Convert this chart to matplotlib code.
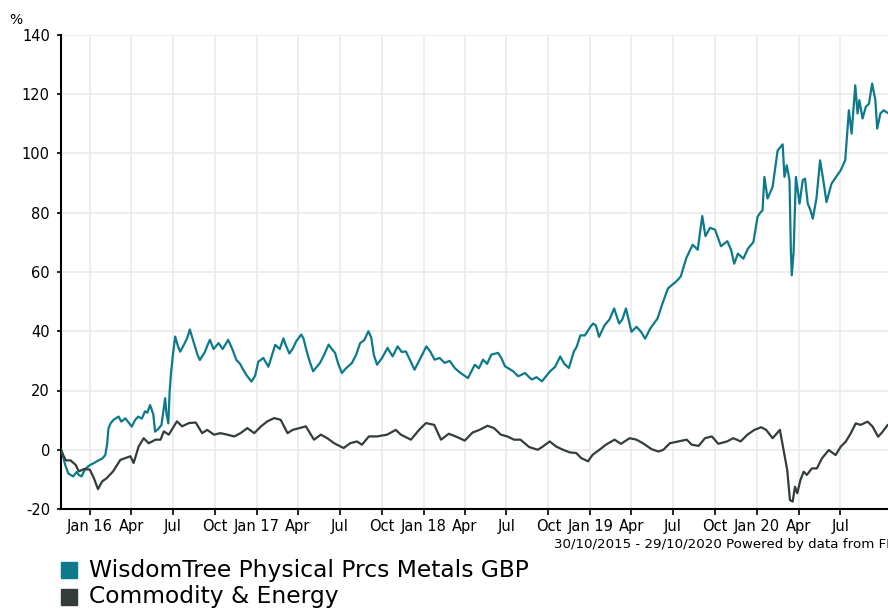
import matplotlib
matplotlib.use('Agg')
import matplotlib.pyplot as plt
import matplotlib.patches as mpatches
import pandas as pd

# Series names and colours
name_metals = 'WisdomTree Physical Prcs Metals GBP'
name_energy = 'Commodity & Energy'
col_metals = '#0d7a8c'
col_energy = '#333d3a'

# WisdomTree Physical Precious Metals GBP, cumulative %
metals_dates = [
    '2015-10-30', '2015-11-03', '2015-11-08', '2015-11-15', '2015-11-20', '2015-11-26',
    '2015-12-03', '2015-12-08', '2015-12-14', '2015-12-22', '2016-01-01', '2016-01-10',
    '2016-01-21', '2016-01-28', '2016-02-04', '2016-02-08', '2016-02-11', '2016-02-16',
    '2016-02-22', '2016-03-04', '2016-03-10', '2016-03-19', '2016-03-27', '2016-04-02',
    '2016-04-09', '2016-04-16', '2016-04-24', '2016-05-01', '2016-05-06', '2016-05-12',
    '2016-05-19', '2016-05-23', '2016-05-30', '2016-06-06', '2016-06-14', '2016-06-17',
    '2016-06-21', '2016-06-24', '2016-06-27', '2016-07-01', '2016-07-06', '2016-07-12',
    '2016-07-17', '2016-07-27', '2016-08-02', '2016-08-07', '2016-08-12', '2016-08-18',
    '2016-08-24', '2016-08-29', '2016-09-09', '2016-09-14', '2016-09-20', '2016-09-28',
    '2016-10-09', '2016-10-18', '2016-10-30', '2016-11-08', '2016-11-17', '2016-11-25',
    '2016-12-02', '2016-12-10', '2016-12-20', '2016-12-28', '2017-01-04', '2017-01-15',
    '2017-01-26', '2017-02-03', '2017-02-10', '2017-02-20', '2017-02-28', '2017-03-06',
    '2017-03-13', '2017-03-20', '2017-03-28', '2017-04-08', '2017-04-13', '2017-04-19',
    '2017-04-26', '2017-05-04', '2017-05-12', '2017-05-19', '2017-05-28', '2017-06-07',
    '2017-06-14', '2017-06-21', '2017-06-28', '2017-07-06', '2017-07-15', '2017-07-28',
    '2017-08-06', '2017-08-15', '2017-08-24', '2017-09-02', '2017-09-08', '2017-09-14',
    '2017-09-21', '2017-10-02', '2017-10-14', '2017-10-25', '2017-11-05', '2017-11-14',
    '2017-11-23', '2017-12-03', '2017-12-12', '2017-12-22', '2018-01-07', '2018-01-16',
    '2018-01-25', '2018-02-05', '2018-02-16', '2018-02-27', '2018-03-10', '2018-03-22',
    '2018-04-08', '2018-04-23', '2018-05-02', '2018-05-11', '2018-05-20', '2018-05-29',
    '2018-06-13', '2018-06-20', '2018-06-28', '2018-07-16', '2018-07-27', '2018-08-11',
    '2018-08-20', '2018-08-26', '2018-09-05', '2018-09-17', '2018-10-05', '2018-10-16',
    '2018-10-27', '2018-11-05', '2018-11-15', '2018-11-26', '2018-12-02', '2018-12-10',
    '2018-12-20', '2019-01-02', '2019-01-07', '2019-01-13', '2019-01-20', '2019-02-01',
    '2019-02-12', '2019-02-22', '2019-03-05', '2019-03-12', '2019-03-20', '2019-04-01',
    '2019-04-12', '2019-04-22', '2019-05-01', '2019-05-12', '2019-05-28', '2019-06-08',
    '2019-06-20', '2019-07-08', '2019-07-18', '2019-07-30', '2019-08-13', '2019-08-24',
    '2019-09-03', '2019-09-10', '2019-09-20', '2019-10-01', '2019-10-14', '2019-10-28',
    '2019-11-05', '2019-11-12', '2019-11-20', '2019-12-02', '2019-12-12', '2019-12-24',
    '2020-01-02', '2020-01-08', '2020-01-13', '2020-01-17', '2020-01-24', '2020-02-04',
    '2020-02-15', '2020-02-26', '2020-03-01', '2020-03-06', '2020-03-12', '2020-03-15',
    '2020-03-17', '2020-03-21', '2020-03-26', '2020-04-03', '2020-04-10', '2020-04-15',
    '2020-04-21', '2020-04-27', '2020-05-02', '2020-05-10', '2020-05-18', '2020-05-25',
    '2020-06-01', '2020-06-12', '2020-06-22', '2020-07-02', '2020-07-12', '2020-07-20',
    '2020-07-26', '2020-08-03', '2020-08-08', '2020-08-12', '2020-08-19', '2020-08-26',
    '2020-09-02', '2020-09-09', '2020-09-16', '2020-09-20', '2020-09-27', '2020-10-04',
    '2020-10-10', '2020-10-20', '2020-10-29',
]
metals_vals = [
    0, -2, -5, -8, -8.5, -9,
    -7.5, -8.5, -9, -6.5, -5.2, -4.5,
    -3.5, -3, -1.8, 2, 7.3, 9,
    10.1, 11.2, 9.5, 10.6, 9, 7.8,
    10, 11.2, 10.5, 13, 12.5, 15.1,
    12, 6.1, 7, 8.4, 17.4, 12,
    8.9, 20, 26, 32, 38.2, 35,
    33.1, 36, 38, 40.6, 38, 35,
    32, 30.3, 33, 35, 37.1, 34,
    36, 34, 37.1, 34, 30.3, 29,
    27, 25, 23, 25, 29.7, 31,
    28, 32, 35.4, 34, 37.6, 35,
    32.5, 34, 36.6, 38.9, 37.5, 33.8,
    30, 26.5, 28, 29.3, 32, 35.5,
    34, 32.7, 29, 25.9, 27.5, 29.3,
    32, 36, 37, 40, 38, 32,
    28.7, 31, 34.4, 31.5, 34.9, 33,
    33.2, 30, 27, 30, 34.9, 33,
    30.4, 31, 29.3, 30, 27.6, 26,
    24.2, 28.7, 27.5, 30.4, 29, 32.1,
    32.7, 31, 28.2, 26.5, 24.8, 25.9,
    24.5, 23.7, 24.5, 23.1, 26.5, 28,
    31.5, 29, 27.6, 33.2, 34.7, 38.6,
    38.6, 41.7, 42.6, 42, 38.1, 42,
    44, 47.7, 42.6, 44, 47.7, 39.8,
    41.5, 39.8, 37.5, 40.9, 44.3, 49.4,
    54.5, 56.8, 58.5, 64.7, 69.2, 67.5,
    78.9, 72.1, 74.9, 74.3, 68.7, 70.4,
    67.5, 62.8, 66.2, 64.5, 67.9, 70.1,
    78.6, 80, 80.8, 92.1, 84.8, 88.7,
    101, 103.1, 92.1, 96, 91, 67.3,
    58.9, 66.7, 92.1, 83.1, 91, 91.5,
    83.1, 80.8, 78, 84.8, 97.7, 91,
    83.6, 89.8, 92.1, 94.3, 97.7, 114.6,
    106.7, 123, 113.5, 118, 111.8, 115.7,
    116.8, 123.6, 118, 108.4, 113.5, 114.6,
    114, 113, 112.5,
]

# Commodity & Energy sector average, cumulative %
energy_dates = [
    '2015-10-30', '2015-11-05', '2015-11-10', '2015-11-20', '2015-12-01', '2015-12-08',
    '2015-12-20', '2016-01-01', '2016-01-10', '2016-01-19', '2016-01-28', '2016-02-07',
    '2016-02-21', '2016-03-08', '2016-03-19', '2016-03-30', '2016-04-06', '2016-04-17',
    '2016-04-28', '2016-05-09', '2016-05-24', '2016-06-04', '2016-06-11', '2016-06-22',
    '2016-07-03', '2016-07-10', '2016-07-21', '2016-08-05', '2016-08-20', '2016-09-03',
    '2016-09-14', '2016-09-29', '2016-10-13', '2016-10-28', '2016-11-12', '2016-11-26',
    '2016-12-11', '2016-12-26', '2017-01-10', '2017-01-24', '2017-02-08', '2017-02-22',
    '2017-03-09', '2017-03-20', '2017-04-04', '2017-04-18', '2017-05-06', '2017-05-21',
    '2017-06-04', '2017-06-19', '2017-07-03', '2017-07-10', '2017-07-24', '2017-08-08',
    '2017-08-19', '2017-09-03', '2017-09-21', '2017-10-13', '2017-11-01', '2017-11-12',
    '2017-12-04', '2017-12-22', '2018-01-06', '2018-01-24', '2018-02-08', '2018-02-25',
    '2018-03-12', '2018-04-01', '2018-04-18', '2018-05-03', '2018-05-21', '2018-06-04',
    '2018-06-19', '2018-07-03', '2018-07-18', '2018-08-01', '2018-08-20', '2018-09-08',
    '2018-09-19', '2018-10-04', '2018-10-18', '2018-11-02', '2018-11-17', '2018-12-01',
    '2018-12-12', '2018-12-27', '2019-01-06', '2019-01-21', '2019-02-04', '2019-02-23',
    '2019-03-09', '2019-03-28', '2019-04-12', '2019-04-26', '2019-05-15', '2019-05-30',
    '2019-06-10', '2019-06-24', '2019-07-12', '2019-07-31', '2019-08-11', '2019-08-26',
    '2019-09-09', '2019-09-24', '2019-10-08', '2019-10-27', '2019-11-10', '2019-11-26',
    '2019-12-11', '2019-12-26', '2020-01-10', '2020-01-21', '2020-02-04', '2020-02-20',
    '2020-02-28', '2020-03-07', '2020-03-13', '2020-03-19', '2020-03-24', '2020-03-29',
    '2020-04-05', '2020-04-12', '2020-04-19', '2020-04-30', '2020-05-11', '2020-05-22',
    '2020-06-06', '2020-06-21', '2020-07-02', '2020-07-13', '2020-07-24', '2020-08-04',
    '2020-08-15', '2020-08-30', '2020-09-10', '2020-09-22', '2020-10-02', '2020-10-13',
    '2020-10-29',
]
energy_vals = [
    0, -2.2, -3.6, -3.6, -5.1, -7.3,
    -6.5, -6.7, -9.6, -13.3, -10.7, -9.6,
    -7.3, -3.4, -2.8, -2.2, -4.5, 1.1,
    3.9, 2.2, 3.4, 3.4, 6.2, 5.1,
    7.9, 9.6, 7.9, 9, 9.2, 5.6,
    6.7, 5.1, 5.6, 5.1, 4.5, 5.6,
    7.3, 5.6, 7.9, 9.6, 10.7, 10.1,
    5.6, 6.7, 7.3, 7.9, 3.4, 5.1,
    3.9, 2.2, 1.1, 0.6, 2.2, 2.8,
    1.7, 4.5, 4.5, 5.1, 6.7, 5.1,
    3.4, 6.7, 9, 8.4, 3.4, 5.4,
    4.5, 3.1, 5.8, 6.7, 8.1, 7.3,
    5.1, 4.5, 3.4, 3.4, 0.9, 0,
    1.1, 2.8, 1.1, 0, -0.9, -1.1,
    -2.8, -3.9, -1.7, 0, 1.7, 3.4,
    2, 3.9, 3.4, 2.2, 0.2, -0.6,
    0, 2.2, 2.8, 3.4, 1.7, 1.3,
    3.9, 4.5, 2, 2.8, 3.9, 2.8,
    5.1, 6.7, 7.6, 6.7, 3.9, 6.7,
    0, -6.8, -17, -17.5, -12.5, -14.7,
    -10.2, -7.4, -8.5, -6.3, -6.3, -2.9,
    -0.1, -1.8, 1, 2.7, 5.5, 8.9,
    8.4, 9.5, 7.8, 4.4, 6.1, 8.4,
    8.6,
]

# Axis ticks
y_ticks = [-20, 0, 20, 40, 60, 80, 100, 120, 140]
x_ticks = pd.date_range('2016-01-01', '2020-07-01', freq='QS')
x_labels = [d.strftime('%b %y') if d.month == 1 else d.strftime('%b') for d in x_ticks]

plt.rcParams['font.family'] = ['DejaVu Sans']

fig = plt.figure(figsize=(8.88, 6.08), dpi=100)
# axes runs a bit past the right edge of the image, as in the original
ax = fig.add_axes([61 / 888, 99 / 608, 834 / 888, 474 / 608])

ax.plot(pd.to_datetime(metals_dates), metals_vals, color=col_metals, lw=1.6, zorder=3)
ax.plot(pd.to_datetime(energy_dates), energy_vals, color=col_energy, lw=1.6, zorder=3)

ax.set_xlim(pd.Timestamp('2015-10-30'), pd.Timestamp('2020-10-29'))
ax.set_ylim(-20, 140)
ax.set_yticks(y_ticks)
ax.set_yticklabels([str(v) for v in y_ticks])
ax.set_xticks(x_ticks)
ax.set_xticklabels(x_labels)

# Grid and spines
ax.grid(True, color='#ebebeb', lw=1.2, zorder=0)
ax.set_axisbelow(True)
for side in ['top', 'right']:
    ax.spines[side].set_visible(False)
for side in ['left', 'bottom']:
    ax.spines[side].set_color('black')
    ax.spines[side].set_linewidth(1.5)
ax.tick_params(axis='y', direction='out', length=3, width=1.2, pad=5, labelsize=10.5)
ax.tick_params(axis='x', direction='out', length=4, width=1.2, pad=3, labelsize=10.5)

# Unit label and footnote
fig.text(9 / 888, 1 - 20 / 608, '%', fontsize=10, va='center', ha='left')
ax.text(1.0, -0.074, '30/10/2015 - 29/10/2020 Powered by data from FE',
        transform=ax.transAxes, ha='right', va='center', fontsize=9.6)

# Legend below the chart
legend_items = [(name_metals, col_metals, 570), (name_energy, col_energy, 597)]
for label, color, y_px in legend_items:
    fig.add_artist(mpatches.Rectangle((61 / 888, 1 - (y_px + 8) / 608), 16 / 888, 16 / 608,
                                      transform=fig.transFigure, color=color))
    fig.text(89 / 888, 1 - y_px / 608, label, fontsize=16.8, va='center', ha='left')

plt.savefig('out.png', dpi=100)
